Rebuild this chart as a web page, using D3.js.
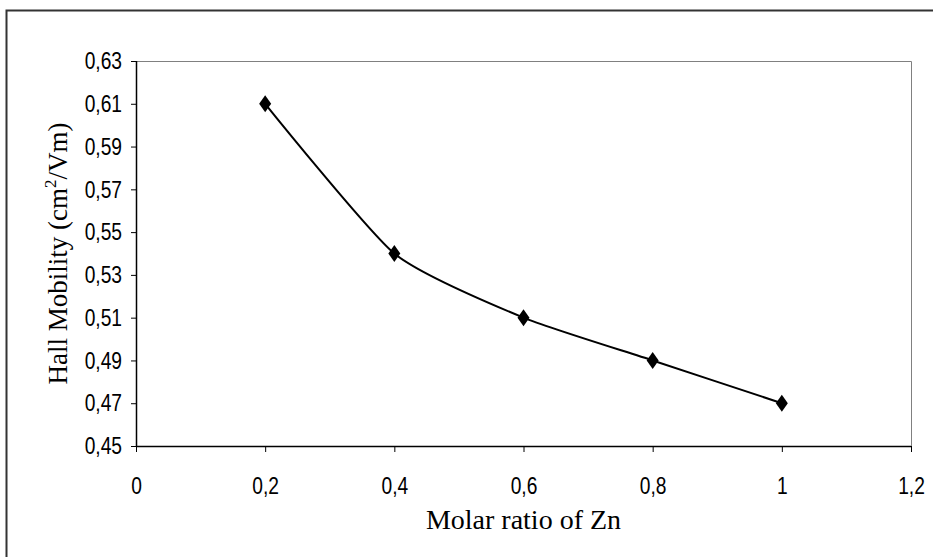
<!DOCTYPE html>
<html>
<head>
<meta charset="utf-8">
<script src="https://cdn.jsdelivr.net/npm/d3@7"></script>
<style>
  html, body { margin: 0; padding: 0; background: #fff; }
  svg { display: block; }
</style>
</head>
<body>
<svg id="chart" width="933" height="557"></svg>
<script>
// Hall mobility versus molar ratio of Zn
const molarRatio = [0.2, 0.4, 0.6, 0.8, 1.0];
const hallMobility = [0.61, 0.54, 0.51, 0.49, 0.47];
const xTicks = [0, 0.2, 0.4, 0.6, 0.8, 1.0, 1.2];
const yTicks = [0.45, 0.47, 0.49, 0.51, 0.53, 0.55, 0.57, 0.59, 0.61, 0.63];

const svg = d3.select("#chart");
const W = 933, H = 557;
const plot = { left: 136, right: 911, top: 61, bottom: 446 };

const x = d3.scaleLinear().domain([0, 1.2]).range([plot.left, plot.right]);
const y = d3.scaleLinear().domain([0.45, 0.63]).range([plot.bottom, plot.top]);

const comma = d => d3.format("~g")(+d.toFixed(2)).replace(".", ",");

// chart frame
svg.append("path")
  .attr("d", `M6.5,${H + 5} V10.5 H${W + 5}`)
  .attr("fill", "none").attr("stroke", "#333").attr("stroke-width", 2);

// plot area border (top and right)
svg.append("path")
  .attr("d", `M${plot.left},${plot.top + 0.5} H${plot.right + 0.5} V${plot.bottom}`)
  .attr("fill", "none").attr("stroke", "#808080").attr("stroke-width", 1);

// tick labels: condensed sans
const tickFont = "'Liberation Sans', Arial, sans-serif";
const tickSize = 24;
const squeeze = 0.8;

// x axis
const xAxis = svg.append("g")
  .attr("transform", `translate(0,${plot.bottom})`)
  .call(d3.axisBottom(x).tickValues(xTicks).tickFormat(comma).tickSize(6).tickPadding(25));
xAxis.select(".domain").attr("stroke", "#000").attr("stroke-width", 1.5)
  .attr("d", `M${plot.left},0.5H${plot.right}`);
xAxis.selectAll(".tick line").attr("stroke", "#000").attr("y1", 0);
xAxis.selectAll(".tick text")
  .attr("font-family", tickFont).attr("font-size", tickSize).attr("fill", "#000")
  .attr("dy", "0.71em")
  .attr("transform", `scale(${squeeze},1)`);

// y axis
const yAxis = svg.append("g")
  .attr("transform", `translate(${plot.left},0)`)
  .call(d3.axisLeft(y).tickValues(yTicks).tickFormat(comma).tickSize(5).tickPadding(9));
yAxis.select(".domain").attr("stroke", "#000").attr("stroke-width", 1.5)
  .attr("d", `M0.5,${plot.top}V${plot.bottom}`);
yAxis.selectAll(".tick line").attr("stroke", "#000");
yAxis.selectAll(".tick text")
  .attr("font-family", tickFont).attr("font-size", tickSize).attr("fill", "#000")
  .attr("x", -14 / squeeze)
  .attr("transform", `scale(${squeeze},1)`);

// axis titles
const titleFont = "'Liberation Serif', 'Times New Roman', serif";
svg.append("text")
  .attr("x", (plot.left + plot.right) / 2).attr("y", 529)
  .attr("text-anchor", "middle")
  .attr("font-family", titleFont).attr("font-size", 28).attr("fill", "#000")
  .text("Molar ratio of Zn");

const yTitle = svg.append("text")
  .attr("transform", `translate(67,${(plot.top + plot.bottom) / 2}) rotate(-90)`)
  .attr("text-anchor", "middle")
  .attr("font-family", titleFont).attr("font-size", 27).attr("fill", "#000");
yTitle.append("tspan").text("Hall Mobility (cm");
yTitle.append("tspan").attr("dy", -11).attr("font-size", 17).text("2");
yTitle.append("tspan").attr("dy", 11).text("/Vm)");

// data series
const pts = molarRatio.map((v, i) => [v, hallMobility[i]]);
const line = d3.line().x(d => x(d[0])).y(d => y(d[1])).curve(d3.curveCardinal.tension(0.4));
svg.append("path")
  .attr("d", line(pts))
  .attr("fill", "none").attr("stroke", "#000").attr("stroke-width", 2);

svg.selectAll(".marker")
  .data(pts)
  .join("path")
  .attr("class", "marker")
  .attr("transform", d => `translate(${x(d[0])},${y(d[1])})`)
  .attr("d", "M0,-8.5L6,0L0,8.5L-6,0Z")
  .attr("fill", "#000");
</script>
</body>
</html>
